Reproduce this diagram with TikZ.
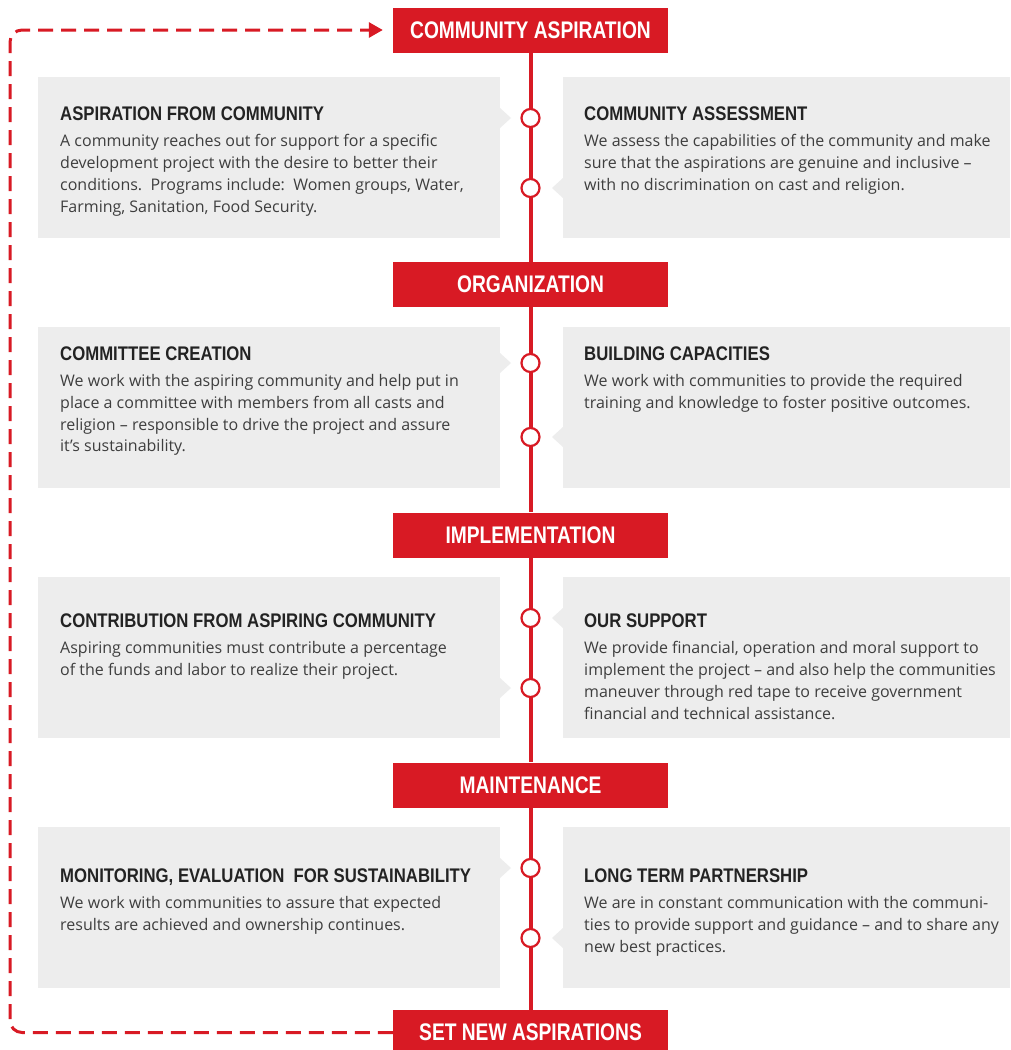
\documentclass[tikz,border=0pt]{standalone}
\usepackage{fontspec}
\setmainfont{Open Sans}
\newfontfamily\headfont[FakeStretch=0.8]{Liberation Sans}
\newfontfamily\titlefont[FakeStretch=0.85]{Liberation Sans}
\usetikzlibrary{arrows.meta}
\definecolor{cred}{RGB}{216,26,36}
\definecolor{cbox}{RGB}{237,237,237}
\definecolor{ctext}{RGB}{62,62,62}
\definecolor{ctitle}{RGB}{35,35,35}
\frenchspacing
\begin{document}
\begin{tikzpicture}[x=1pt,y=-1pt,
  header/.style={fill=cred, text=white, minimum width=275pt, minimum height=45pt, inner sep=0pt, font=\headfont\bfseries\fontsize{24}{28}\selectfont},
  panel/.style={fill=cbox, inner sep=0pt, anchor=north west, minimum height=161pt},
  ttl/.style={anchor=base west, inner sep=0pt, text=ctitle, font=\titlefont\bfseries\fontsize{19.7}{24}\selectfont},
  body/.style={anchor=north west, inner sep=0pt, align=left, text=ctext, font=\fontsize{16}{21.7}\selectfont},
  ring/.style={circle, draw=cred, fill=white, line width=2.2pt, minimum size=18pt, inner sep=0pt},
  spine/.style={draw=cred, line width=4pt},
  loopline/.style={draw=cred, line width=3pt, dash pattern=on 15pt off 8pt, rounded corners=12pt},
  ptr/.style={fill=cbox, draw=none},
]
\useasboundingbox (0,0) rectangle (1010,1050);
\clip (0,0) rectangle (1010,1050);
\fill[white] (0,0) rectangle (1010,1050);

% panels
\foreach \t/\n in {77/1,327/2,577/3,827/4}{
  \node[panel, minimum width=462pt] (L\n) at (38,\t) {};
  \node[panel, minimum width=447pt] (R\n) at (563,\t) {};
}
% pointers
\foreach \y in {118,363,688,868}{
  \fill[ptr] (500,\y-10) -- (511,\y) -- (500,\y+10) -- cycle;
}
\foreach \y in {188,437,618,938}{
  \fill[ptr] (563,\y-10) -- (552,\y) -- (563,\y+10) -- cycle;
}

% headers
\node[header] (h1) at (530.5,30) {COMMUNITY ASPIRATION};
\node[header] (h2) at (530.5,284.5) {ORGANIZATION};
\node[header] (h3) at (530.5,535) {IMPLEMENTATION};
\node[header] (h4) at (530.5,785) {MAINTENANCE};
\node[header] (h5) at (530.5,1032.5) {SET NEW ASPIRATIONS};

% spine
\draw[spine] (h1.south) -- (h2.north);
\draw[spine] (h2.south) -- (h3.north);
\draw[spine] (h3.south) -- (h4.north);
\draw[spine] (h4.south) -- (h5.north);

% rings
\node[ring] (c1a) at (530.5,118) {};
\node[ring] (c1b) at (530.5,188) {};
\node[ring] (c2a) at (530.5,363) {};
\node[ring] (c2b) at (530.5,437) {};
\node[ring] (c3a) at (530.5,618) {};
\node[ring] (c3b) at (530.5,688) {};
\node[ring] (c4a) at (530.5,868) {};
\node[ring] (c4b) at (530.5,938) {};

% loop connector
\coordinate (lc) at (10,30);
\draw[loopline, -{Triangle[length=14pt,width=15pt]}, shorten >=10pt] (h5.west) -| (lc) -- (h1.west);

% texts row 1
\node[ttl] (t1l) at (60,120) {ASPIRATION FROM COMMUNITY};
\node[body] (d1l) at (60,134.5) {A community reaches out for support for a specific\\development project with the desire to better their\\conditions.\ \ Programs include:\ \ Women groups, Water,\\Farming, Sanitation, Food Security.};
\node[ttl] (t1r) at (584,120) {COMMUNITY ASSESSMENT};
\node[body] (d1r) at (584,134.5) {We assess the capabilities of the community and make\\sure that the aspirations are genuine and inclusive –\\with no discrimination on cast and religion.};

% row 2
\node[ttl] (t2l) at (60,360) {COMMITTEE CREATION};
\node[body] (d2l) at (60,374.5) {We work with the aspiring community and help put in\\place a committee with members from all casts and\\religion – responsible to drive the project and assure\\it's sustainability.};
\node[ttl] (t2r) at (584,360) {BUILDING CAPACITIES};
\node[body] (d2r) at (584,374.5) {We work with communities to provide the required\\training and knowledge to foster positive outcomes.};

% row 3
\node[ttl] (t3l) at (60,627) {CONTRIBUTION FROM ASPIRING COMMUNITY};
\node[body] (d3l) at (60,641.5) {Aspiring communities must contribute a percentage\\of the funds and labor to realize their project.};
\node[ttl] (t3r) at (584,627) {OUR SUPPORT};
\node[body] (d3r) at (584,641.5) {We provide financial, operation and moral support to\\implement the project – and also help the communities\\maneuver through red tape to receive government\\financial and technical assistance.};

% row 4
\node[ttl] (t4l) at (60,882) {MONITORING, EVALUATION\ \ FOR SUSTAINABILITY};
\node[body] (d4l) at (60,896.5) {We work with communities to assure that expected\\results are achieved and ownership continues.};
\node[ttl] (t4r) at (584,882) {LONG TERM PARTNERSHIP};
\node[body] (d4r) at (584,896.5) {We are in constant communication with the communi-\\ties to provide support and guidance – and to share any\\new best practices.};
\end{tikzpicture}
\end{document}
